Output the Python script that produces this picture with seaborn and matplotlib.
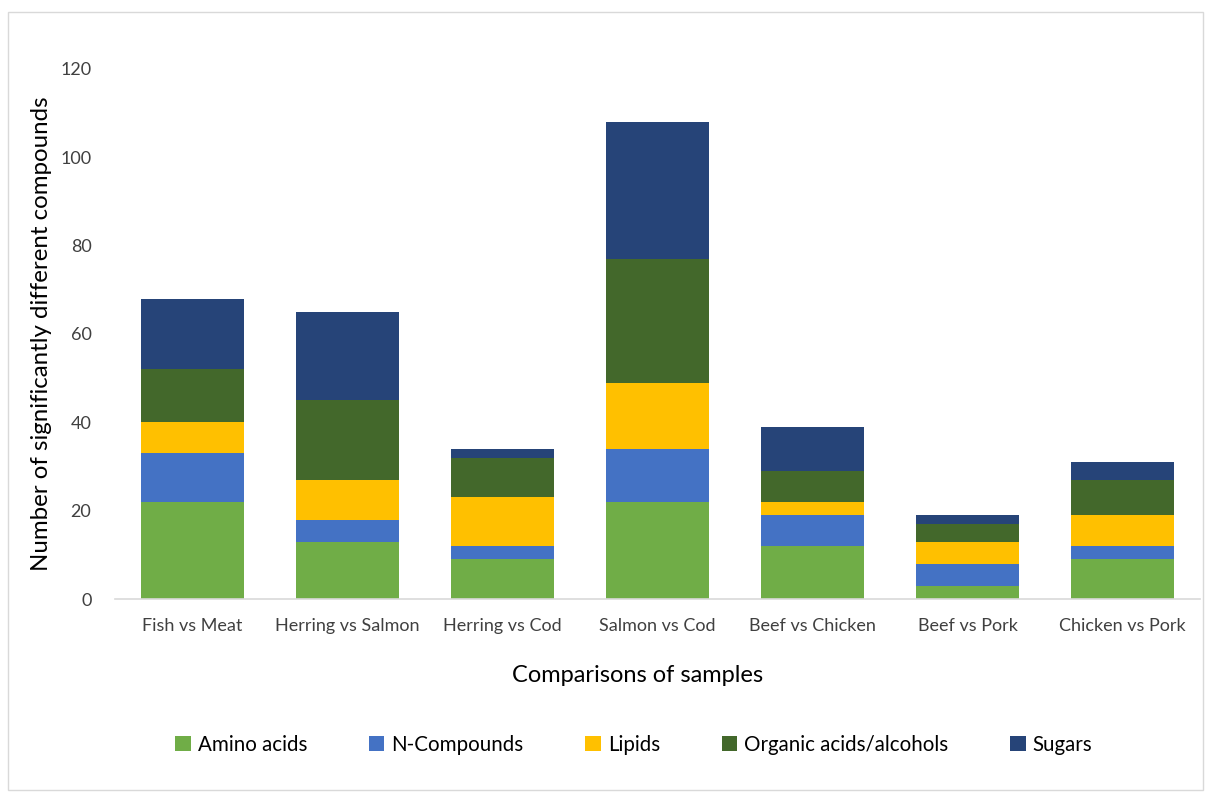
"""Stacked bars: significantly different compounds per sample comparison"""

import matplotlib.pyplot as plt
import numpy as np
import pandas as pd
import seaborn as sns
from matplotlib.patches import Patch, Rectangle

comparisons = ['Fish vs Meat', 'Herring vs Salmon', 'Herring vs Cod', 'Salmon vs Cod',
               'Beef vs Chicken', 'Beef vs Pork', 'Chicken vs Pork']
amino_acids = [22, 13, 9, 22, 12, 3, 9]
n_compounds = [11, 5, 3, 12, 7, 5, 3]
lipids = [7, 9, 11, 15, 3, 5, 7]
organic_acids = [12, 18, 9, 28, 7, 4, 8]
sugars = [16, 20, 2, 31, 10, 2, 4]

groups = ['Amino acids', 'N-Compounds', 'Lipids', 'Organic acids/alcohols', 'Sugars']
colors = ['#70AD47', '#4472C4', '#FFC000', '#43682B', '#264478']

df = pd.DataFrame({'comparison': comparisons, 'Amino acids': amino_acids,
                   'N-Compounds': n_compounds, 'Lipids': lipids,
                   'Organic acids/alcohols': organic_acids, 'Sugars': sugars})
cum = df[groups].cumsum(axis=1)

sns.set_style('white')
plt.rcParams['font.family'] = ['Lato', 'DejaVu Sans']
text_col = '#404040'

fig = plt.figure(figsize=(12.05, 7.92), dpi=100)
ax = fig.add_axes([115 / 1205, 1 - 599 / 792, 1085 / 1205, 530 / 792])

# draw cumulative totals from the top layer down so lower layers overlay
for grp, col in zip(groups[::-1], colors[::-1]):
    sns.barplot(x=df['comparison'], y=cum[grp], color=col, width=0.66,
                saturation=1, ax=ax, edgecolor='none', linewidth=0)

ax.set_ylim(0, 120)
ax.set_xlim(-0.5, 6.5)
ax.set_yticks(np.arange(0, 121, 20))
ax.tick_params(axis='both', length=0, labelsize=13, colors=text_col)
ax.tick_params(axis='x', pad=14)
ax.tick_params(axis='y', pad=17)
for s in ['top', 'right', 'left']:
    ax.spines[s].set_visible(False)
ax.spines['bottom'].set_color('#D9D9D9')
ax.spines['bottom'].set_linewidth(1.2)

ax.set_ylabel('Number of significantly different compounds', fontsize=17.3, color='#000000')
ax.yaxis.set_label_coords(-0.058, 0.5)
ax.set_xlabel('Comparisons of samples', fontsize=17, color='#000000')
ax.xaxis.set_label_coords(0.4816, -0.125)

handles = [Patch(facecolor=c, edgecolor='none', label=g) for g, c in zip(groups, colors)]
fig.legend(handles=handles, loc='center', bbox_to_anchor=(0.526, 1 - 745 / 792), ncol=5,
           frameon=False, fontsize=14.8, handlelength=0.75, handleheight=0.75,
           handletextpad=0.35, columnspacing=3.0, labelcolor='#000000')

fig.patches.append(Rectangle((8 / 1205, 2 / 792), 1195 / 1205, 778 / 792, transform=fig.transFigure,
                             fill=False, edgecolor='#D9D9D9', linewidth=1))

fig.savefig('out.png', dpi=100)
